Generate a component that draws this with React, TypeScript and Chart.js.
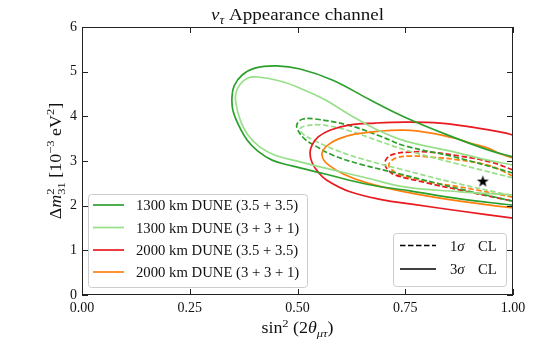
import React, { useEffect, useRef } from 'react';
import { Chart, registerables } from 'chart.js';

Chart.register(...registerables);

// ---------- axis ticks ----------
const X_TICKS = [0, 0.25, 0.5, 0.75, 1.0];
const Y_TICKS = [0, 1, 2, 3, 4, 5, 6];

// ---------- contours (sin^2(2θμτ), Δm²31 [1e-3 eV²]) ----------
// 1300 km DUNE (3.5+3.5), 3σ
const g3X = [1.0, 0.942, 0.849, 0.749, 0.668, 0.582, 0.506, 0.452, 0.401, 0.371, 0.353, 0.348, 0.350, 0.362, 0.383, 0.408, 0.441, 0.487, 0.564, 0.661, 0.761, 0.877, 1.0];
const g3Y = [3.09, 3.25, 3.58, 3.98, 4.37, 4.81, 5.06, 5.13, 5.08, 4.92, 4.68, 4.43, 4.14, 3.83, 3.47, 3.22, 3.02, 2.89, 2.71, 2.48, 2.33, 2.15, 2.01];
// 1300 km DUNE (3+3+1), 3σ
const l3X = [1.0, 0.942, 0.865, 0.749, 0.691, 0.622, 0.564, 0.506, 0.459, 0.408, 0.385, 0.367, 0.357, 0.357, 0.367, 0.385, 0.413, 0.448, 0.506, 0.582, 0.661, 0.749, 0.877, 1.0];
const l3Y = [2.91, 3.02, 3.20, 3.45, 3.67, 4.03, 4.37, 4.63, 4.79, 4.88, 4.86, 4.72, 4.52, 4.30, 3.92, 3.58, 3.31, 3.13, 2.98, 2.80, 2.62, 2.42, 2.31, 2.24];
// 2000 km DUNE (3.5+3.5), 3σ
const r3X = [1.0, 0.981, 0.905, 0.831, 0.749, 0.680, 0.622, 0.575, 0.548, 0.534, 0.529, 0.534, 0.548, 0.568, 0.622, 0.698, 0.761, 0.877, 1.0];
const r3Y = [3.58, 3.63, 3.76, 3.85, 3.87, 3.85, 3.81, 3.69, 3.54, 3.36, 3.18, 2.96, 2.75, 2.57, 2.31, 2.13, 2.04, 1.88, 1.72];
// 2000 km DUNE (3+3+1), 3σ
const o3X = [1.0, 0.965, 0.942, 0.900, 0.865, 0.807, 0.749, 0.691, 0.633, 0.594, 0.568, 0.557, 0.561, 0.575, 0.606, 0.661, 0.749, 0.877, 1.0];
const o3Y = [3.07, 3.18, 3.29, 3.40, 3.51, 3.63, 3.69, 3.67, 3.60, 3.49, 3.34, 3.18, 3.02, 2.89, 2.71, 2.51, 2.31, 2.10, 1.95];
// 1300 km DUNE (3.5+3.5), 1σ
const g1X = [1.0, 0.865, 0.749, 0.691, 0.615, 0.541, 0.513, 0.499, 0.501, 0.517, 0.541, 0.582, 0.645, 0.738, 0.865, 1.0];
const g1Y = [2.73, 3.09, 3.34, 3.56, 3.81, 3.94, 3.94, 3.83, 3.69, 3.49, 3.34, 3.13, 2.93, 2.71, 2.40, 2.10];
// 1300 km DUNE (3+3+1), 1σ
const l1X = [1.0, 0.865, 0.749, 0.691, 0.615, 0.552, 0.517, 0.506, 0.513, 0.541, 0.587, 0.652, 0.738, 0.865, 1.0];
const l1Y = [2.62, 2.95, 3.25, 3.44, 3.69, 3.81, 3.78, 3.72, 3.60, 3.45, 3.25, 3.04, 2.82, 2.51, 2.22];
// 2000 km DUNE (3.5+3.5), 1σ
const r1X = [1.0, 0.947, 0.877, 0.807, 0.761, 0.726, 0.708, 0.703, 0.710, 0.726, 0.800, 0.877, 1.0];
const r1Y = [2.80, 2.98, 3.11, 3.20, 3.20, 3.16, 3.07, 2.93, 2.80, 2.69, 2.51, 2.35, 2.10];
// 2000 km DUNE (3+3+1), 1σ
const o1X = [1.0, 0.947, 0.877, 0.807, 0.761, 0.729, 0.715, 0.712, 0.722, 0.738, 0.807, 0.877, 1.0];
const o1Y = [2.66, 2.89, 3.02, 3.09, 3.11, 3.07, 2.98, 2.89, 2.78, 2.69, 2.53, 2.42, 2.19];
// best fit / true point
const STAR_X = [0.93];
const STAR_Y = [2.55];

const SERIES_LABELS = [
  '1300 km DUNE (3.5 + 3.5)',
  '1300 km DUNE (3 + 3 + 1)',
  '2000 km DUNE (3.5 + 3.5)',
  '2000 km DUNE (3 + 3 + 1)',
];
const CL_LABELS = ['1', '3'];
const COLORS = ['#2ca02c', '#98df8a', '#e8191f', '#ff7f0e'];

const FAM = '"Liberation Serif", "Times New Roman", serif';
const TXT = '#111111';
const LW = 1.7;
const DASH = [5.5, 2.5];

type Seg = { t: string; it?: boolean; s?: number; dy?: number; noAdv?: boolean };

function segFont(sg: Seg, base: number) {
  return `${sg.it ? 'italic ' : ''}${(sg.s ?? 1) * base}px ${FAM}`;
}

function richWidth(ctx: CanvasRenderingContext2D, segs: Seg[], base: number, k: number) {
  let w = 0;
  for (const sg of segs) {
    ctx.font = segFont(sg, base);
    if (!sg.noAdv) w += ctx.measureText(sg.t).width * k;
  }
  return w;
}

function drawRich(ctx: CanvasRenderingContext2D, segs: Seg[], x: number, y: number, base: number, align: 'center' | 'left', k = 1) {
  const total = richWidth(ctx, segs, base, k);
  let cx = align === 'center' ? x - total / 2 : x;
  ctx.textAlign = 'left';
  ctx.textBaseline = 'alphabetic';
  for (const sg of segs) {
    ctx.font = segFont(sg, base);
    ctx.save();
    ctx.translate(cx, y + (sg.dy ?? 0) * base);
    ctx.scale(k, 1);
    ctx.fillText(sg.t, 0, 0);
    ctx.restore();
    if (!sg.noAdv) cx += ctx.measureText(sg.t).width * k;
  }
}

function roundRect(ctx: CanvasRenderingContext2D, x: number, y: number, w: number, h: number, r: number) {
  ctx.beginPath();
  ctx.moveTo(x + r, y);
  ctx.lineTo(x + w - r, y);
  ctx.arcTo(x + w, y, x + w, y + r, r);
  ctx.lineTo(x + w, y + h - r);
  ctx.arcTo(x + w, y + h, x + w - r, y + h, r);
  ctx.lineTo(x + r, y + h);
  ctx.arcTo(x, y + h, x, y + h - r, r);
  ctx.lineTo(x, y + r);
  ctx.arcTo(x, y, x + r, y, r);
  ctx.closePath();
}

const pts = (xs: number[], ys: number[]) => xs.map((x, i) => ({ x, y: ys[i] }));

const decorPlugin = {
  id: 'decor',
  afterDatasetsDraw(chart: any) {
    const { ctx, chartArea: a, scales } = chart;
    const xs = scales.x;
    const ys = scales.y;
    ctx.save();
    ctx.strokeStyle = '#222222';
    ctx.lineWidth = 1;
    ctx.strokeRect(a.left + 0.5, a.top + 0.5, a.right - a.left - 1, a.bottom - a.top - 1);
    const TL = 6;
    ctx.beginPath();
    for (const v of X_TICKS) {
      const px = Math.round(xs.getPixelForValue(v)) + 0.5;
      ctx.moveTo(px, a.bottom);
      ctx.lineTo(px, a.bottom - TL);
      ctx.moveTo(px, a.top);
      ctx.lineTo(px, a.top + TL);
    }
    for (const v of Y_TICKS) {
      const py = Math.round(ys.getPixelForValue(v)) + 0.5;
      ctx.moveTo(a.left, py);
      ctx.lineTo(a.left + TL, py);
      ctx.moveTo(a.right, py);
      ctx.lineTo(a.right - TL, py);
    }
    ctx.stroke();
    ctx.restore();
  },
  afterDraw(chart: any) {
    const { ctx, chartArea: a } = chart;
    ctx.save();
    ctx.fillStyle = TXT;
    // title
    drawRich(ctx, [
      { t: 'ν', it: true },
      { t: 'τ', it: true, s: 0.7, dy: 0.22 },
      { t: ' Appearance channel' },
    ], (a.left + a.right) / 2, 20, 17, 'center', 1.12);
    // x label
    drawRich(ctx, [
      { t: 'sin' },
      { t: '2', s: 0.7, dy: -0.4 },
      { t: ' (2' },
      { t: 'θ', it: true },
      { t: 'μτ', it: true, s: 0.7, dy: 0.25 },
      { t: ')' },
    ], (a.left + a.right) / 2, 333, 16, 'center', 1.12);
    // y label (rotated)
    ctx.save();
    ctx.translate(61, (a.top + a.bottom) / 2);
    ctx.rotate(-Math.PI / 2);
    drawRich(ctx, [
      { t: 'Δ' },
      { t: 'm', it: true },
      { t: '2', s: 0.7, dy: -0.42, noAdv: true },
      { t: '31', s: 0.7, dy: 0.28 },
      { t: ' [10' },
      { t: '−3', s: 0.7, dy: -0.42 },
      { t: ' eV' },
      { t: '2', s: 0.7, dy: -0.42 },
      { t: ']' },
    ], 0, 0, 16, 'center', 1.12);
    ctx.restore();

    // left legend
    const lx = 88, ly = 194, lw = 219, lh = 93;
    roundRect(ctx, lx + 0.5, ly + 0.5, lw, lh, 3);
    ctx.fillStyle = 'rgba(255,255,255,0.8)';
    ctx.fill();
    ctx.strokeStyle = '#cccccc';
    ctx.lineWidth = 1;
    ctx.stroke();
    const rows = [205, 227.5, 250, 272];
    SERIES_LABELS.forEach((lab, i) => {
      ctx.strokeStyle = COLORS[i];
      ctx.lineWidth = LW;
      ctx.setLineDash([]);
      ctx.beginPath();
      ctx.moveTo(93, rows[i]);
      ctx.lineTo(124, rows[i]);
      ctx.stroke();
      ctx.fillStyle = TXT;
      drawRich(ctx, [{ t: lab }], 136, rows[i] + 5, 14, 'left', 1.05);
    });

    // right legend
    const rx = 393, ry = 233, rw = 113, rh = 53;
    roundRect(ctx, rx + 0.5, ry + 0.5, rw, rh, 3);
    ctx.fillStyle = 'rgba(255,255,255,0.8)';
    ctx.fill();
    ctx.strokeStyle = '#cccccc';
    ctx.lineWidth = 1;
    ctx.stroke();
    const rrows = [245.5, 269];
    CL_LABELS.forEach((n, i) => {
      ctx.strokeStyle = '#000000';
      ctx.lineWidth = LW;
      ctx.setLineDash(i === 0 ? DASH : []);
      ctx.beginPath();
      ctx.moveTo(400, rrows[i]);
      ctx.lineTo(436, rrows[i]);
      ctx.stroke();
      ctx.setLineDash([]);
      ctx.fillStyle = TXT;
      drawRich(ctx, [{ t: n }, { t: 'σ', it: true }], 450, rrows[i] + 5, 14, 'left', 1.05);
      drawRich(ctx, [{ t: 'CL' }], 478, rrows[i] + 5, 14, 'left', 1.05);
    });
    ctx.restore();
  },
};

export default function App() {
  const ref = useRef<HTMLCanvasElement>(null);
  useEffect(() => {
    const canvas = ref.current!;
    const star = document.createElement('canvas');
    star.width = 13;
    star.height = 13;
    const sc = star.getContext('2d')!;
    sc.fillStyle = '#000';
    sc.beginPath();
    for (let k = 0; k < 10; k++) {
      const r = k % 2 === 0 ? 6.3 : 2.5;
      const ang = -Math.PI / 2 + (k * Math.PI) / 5;
      const px = 6.5 + r * Math.cos(ang);
      const py = 7 + r * Math.sin(ang);
      if (k === 0) sc.moveTo(px, py);
      else sc.lineTo(px, py);
    }
    sc.closePath();
    sc.fill();

    const line = (xs: number[], ys: number[], color: string, dashed: boolean) => ({
      data: pts(xs, ys),
      showLine: true,
      borderColor: color,
      backgroundColor: color,
      borderWidth: LW,
      borderDash: dashed ? DASH : [],
      pointRadius: 0,
      pointHoverRadius: 0,
      tension: 0.4,
      fill: false,
    });

    const chart = new Chart(canvas, {
      type: 'scatter',
      data: {
        datasets: [
          line(g3X, g3Y, COLORS[0], false),
          line(l3X, l3Y, COLORS[1], false),
          line(r3X, r3Y, COLORS[2], false),
          line(o3X, o3Y, COLORS[3], false),
          line(g1X, g1Y, COLORS[0], true),
          line(l1X, l1Y, COLORS[1], true),
          line(r1X, r1Y, COLORS[2], true),
          line(o1X, o1Y, COLORS[3], true),
          {
            data: pts(STAR_X, STAR_Y),
            pointStyle: star as any,
            pointRadius: 6,
            showLine: false,
          } as any,
        ],
      },
      options: {
        responsive: false,
        animation: false,
        devicePixelRatio: 1,
        events: [],
        layout: { padding: { top: 27, right: 27, left: 0, bottom: 0 } },
        plugins: {
          legend: { display: false },
          title: { display: false },
          tooltip: { enabled: false },
        },
        scales: {
          x: {
            type: 'linear',
            min: 0,
            max: 1,
            afterBuildTicks: (s: any) => {
              s.ticks = X_TICKS.map((v) => ({ value: v }));
            },
            afterFit: (s: any) => {
              s.height = 53;
            },
            grid: { display: false, drawTicks: false },
            border: { display: false },
            ticks: {
              padding: 5,
              color: TXT,
              font: { family: FAM, size: 14 },
              maxRotation: 0,
              callback: (v: any) => Number(v).toFixed(2),
            },
          },
          y: {
            type: 'linear',
            min: 0,
            max: 6,
            afterBuildTicks: (s: any) => {
              s.ticks = Y_TICKS.map((v) => ({ value: v }));
            },
            afterFit: (s: any) => {
              s.width = 82;
            },
            grid: { display: false, drawTicks: false },
            border: { display: false },
            ticks: {
              padding: 5,
              color: TXT,
              font: { family: FAM, size: 14 },
              callback: (v: any) => String(v),
            },
          },
        },
      },
      plugins: [decorPlugin],
    } as any);
    return () => chart.destroy();
  }, []);
  return (
    <div style={{ position: 'absolute', left: 0, top: 0, width: 540, height: 348, background: '#fff' }}>
      <canvas ref={ref} width={540} height={348} style={{ display: 'block', width: 540, height: 348 }} />
    </div>
  );
}
